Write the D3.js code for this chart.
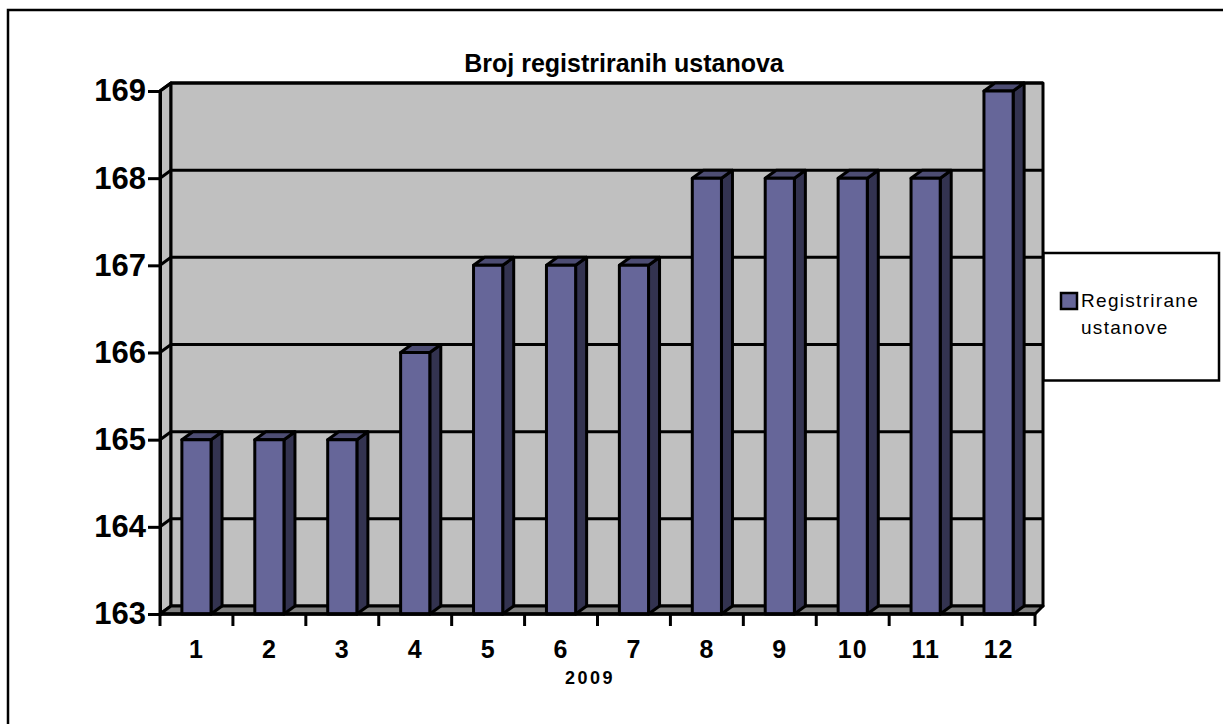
<!DOCTYPE html>
<html>
<head>
<meta charset="utf-8">
<script src="https://d3js.org/d3.v7.min.js"></script>
<style>
  html, body { margin: 0; padding: 0; background: #fff; }
  svg { display: block; }
  text { font-family: "Liberation Sans", Arial, sans-serif; fill: #000; }
</style>
</head>
<body>
<div id="chart"></div>
<script>
// ---- data ----
const months = ['1', '2', '3', '4', '5', '6', '7', '8', '9', '10', '11', '12'];
const institutions = [165, 165, 165, 166, 167, 167, 167, 168, 168, 168, 168, 169];
const yTicks = [163, 164, 165, 166, 167, 168, 169];
const chartTitle = 'Broj registriranih ustanova';
const xTitle = '2009';
const legendLines = ['Registrirane', 'ustanove'];

const width = 1223, height = 724;
const plotLeft = 160, plotRight = 1035, plotTop = 91, plotBottom = 614;
const depthX = 11, depthY = -8; // 3D offset of the back wall
const backRight = plotRight + 8;

const BAR_FRONT = '#666699', BAR_TOP = '#4d4d73', BAR_SIDE = '#333350';
const WALL = '#c0c0c0', FLOOR = '#808080';
const LINE = 3;

const x = d3.scaleBand().domain(months).range([plotLeft, plotRight]).paddingInner(0.6).paddingOuter(0.3);
const y = d3.scaleLinear().domain([163, 169]).range([plotBottom, plotTop]);

const svg = d3.select('#chart').append('svg')
    .attr('width', width)
    .attr('height', height);

const poly = pts => pts.map(p => p.join(',')).join(' ');

function face(pts, fill) {
    svg.append('polygon')
        .attr('points', poly(pts))
        .attr('fill', fill)
        .attr('stroke', '#000')
        .attr('stroke-width', LINE)
        .attr('stroke-linejoin', 'round');
}

// outer frame
svg.append('path')
    .attr('d', `M8,${height} V10 H${width}`)
    .attr('fill', 'none')
    .attr('stroke', '#000')
    .attr('stroke-width', 2.5);

// walls
const y0 = y(163), y1 = y(169);
face([[plotLeft, y0], [plotLeft + depthX, y0 + depthY], [plotLeft + depthX, y1 + depthY], [plotLeft, y1]], WALL);
face([[plotLeft + depthX, y1 + depthY], [backRight, y1 + depthY], [backRight, y0 + depthY], [plotLeft + depthX, y0 + depthY]], WALL);
face([[plotLeft, y0], [plotRight, y0], [backRight, y0 + depthY], [plotLeft + depthX, y0 + depthY]], FLOOR);

// gridlines on both walls
yTicks.slice(1).forEach(t => {
    svg.append('polyline')
        .attr('points', poly([[plotLeft, y(t)], [plotLeft + depthX, y(t) + depthY], [backRight, y(t) + depthY]]))
        .attr('fill', 'none')
        .attr('stroke', '#000')
        .attr('stroke-width', LINE);
});

// bars
months.forEach((m, i) => {
    const bx = x(m), bw = x.bandwidth(), by = y(institutions[i]);
    face([[bx + bw, y0], [bx + bw + depthX, y0 + depthY], [bx + bw + depthX, by + depthY], [bx + bw, by]], BAR_SIDE);
    face([[bx, by], [bx + depthX, by + depthY], [bx + bw + depthX, by + depthY], [bx + bw, by]], BAR_TOP);
    face([[bx, by], [bx + bw, by], [bx + bw, y0], [bx, y0]], BAR_FRONT);
});

// y axis
const yAxis = svg.append('g')
    .attr('transform', `translate(${plotLeft},0)`)
    .call(d3.axisLeft(y).tickValues(yTicks).tickFormat(d3.format('d')).tickSize(12).tickPadding(2));
yAxis.selectAll('path, line').attr('stroke', '#000').attr('stroke-width', LINE);
yAxis.selectAll('text').style('font-size', '31px').style('font-weight', 'bold');

// x axis, ticks fall between the categories
const xAxis = svg.append('g').attr('transform', `translate(0,${plotBottom})`);
xAxis.append('line')
    .attr('x1', plotLeft).attr('x2', plotRight)
    .attr('stroke', '#000').attr('stroke-width', 3.5);
xAxis.selectAll('line.tick')
    .data(months.concat(['end']))
    .join('line')
    .attr('class', 'tick')
    .attr('x1', (d, i) => plotLeft + x.step() * i)
    .attr('x2', (d, i) => plotLeft + x.step() * i)
    .attr('y1', 0).attr('y2', 12)
    .attr('stroke', '#000').attr('stroke-width', LINE);
xAxis.selectAll('text')
    .data(months)
    .join('text')
    .attr('x', d => x(d) + x.bandwidth() / 2)
    .attr('y', 44)
    .attr('text-anchor', 'middle')
    .style('font-size', '25px')
    .style('font-weight', 'bold')
    .style('letter-spacing', '1px')
    .text(d => d);

// titles
svg.append('text')
    .attr('x', 624).attr('y', 72)
    .attr('text-anchor', 'middle')
    .style('font-size', '25px').style('font-weight', 'bold')
    .text(chartTitle);
svg.append('text')
    .attr('x', 590).attr('y', 684)
    .attr('text-anchor', 'middle')
    .style('font-size', '18px').style('font-weight', 'bold')
    .style('letter-spacing', '2.5px')
    .text(xTitle);

// legend
svg.append('rect')
    .attr('x', 1043.5).attr('y', 253)
    .attr('width', 175.5).attr('height', 127.5)
    .attr('fill', '#fff').attr('stroke', '#000').attr('stroke-width', 2.5);
svg.append('rect')
    .attr('x', 1061).attr('y', 293)
    .attr('width', 16).attr('height', 16)
    .attr('fill', BAR_FRONT).attr('stroke', '#000').attr('stroke-width', 2.5);
svg.selectAll('text.legend')
    .data(legendLines)
    .join('text')
    .attr('class', 'legend')
    .attr('x', 1081)
    .attr('y', (d, i) => 307 + i * 27)
    .style('font-size', '19px')
    .style('letter-spacing', '1.3px')
    .text(d => d);
</script>
</body>
</html>
